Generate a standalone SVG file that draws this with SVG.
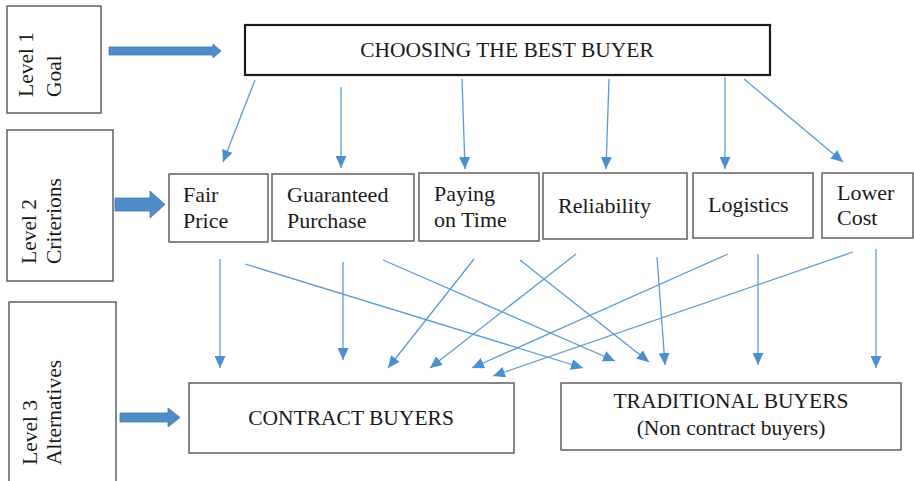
<svg xmlns="http://www.w3.org/2000/svg" width="914" height="481" viewBox="0 0 914 481">
  <defs>
    <style>
      .box { fill: #ffffff; stroke: #555555; stroke-width: 1.4; }
      .goal { fill: #ffffff; stroke: #1a1a1a; stroke-width: 2.2; }
      .lbl { font-family: "Liberation Serif", "Times New Roman", serif; fill: #1a1a1a; }
      .lvl { font-size: 21.5px; }
      .crit { font-size: 22px; }
      .alt { font-size: 21.5px; }
      .link { stroke: #5B9BD5; stroke-width: 1.3; fill: none; marker-end: url(#tip); }
      .fat { fill: #4F8CC8; stroke: #3E78B2; stroke-width: 0.8; }
    </style>
    <marker id="tip" markerUnits="userSpaceOnUse" markerWidth="12" markerHeight="11" refX="12" refY="5.5" orient="auto">
      <path d="M0,0 L12,5.5 L0,11 Z" fill="#4A90D0"/>
    </marker>
  </defs>

  <rect width="914" height="481" fill="#ffffff"/>

  <!-- level labels -->
  <g id="level1">
    <rect class="box" x="7" y="6" width="94" height="107"/>
    <text class="lbl lvl" transform="translate(33,97) rotate(-90)">Level 1</text>
    <text class="lbl lvl" transform="translate(61,97) rotate(-90)">Goal</text>
  </g>
  <g id="level2">
    <rect class="box" x="7" y="130" width="106" height="151"/>
    <text class="lbl lvl" transform="translate(36,264) rotate(-90)">Level 2</text>
    <text class="lbl lvl" transform="translate(61,264) rotate(-90)">Criterions</text>
  </g>
  <g id="level3">
    <rect class="box" x="9" y="302" width="107" height="190"/>
    <text class="lbl lvl" transform="translate(37,465) rotate(-90)">Level 3</text>
    <text class="lbl lvl" transform="translate(61,465) rotate(-90)">Alternatives</text>
  </g>

  <!-- goal -->
  <g id="goal">
    <rect class="goal" x="245" y="25" width="525" height="50"/>
    <text class="lbl" x="507" y="57" font-size="21.5" text-anchor="middle">CHOOSING THE BEST BUYER</text>
  </g>

  <!-- criteria -->
  <g id="fair-price">
    <rect class="box" x="169" y="174" width="99" height="68"/>
    <text class="lbl crit" x="183" y="202">Fair</text>
    <text class="lbl crit" x="183" y="228">Price</text>
  </g>
  <g id="guaranteed-purchase">
    <rect class="box" x="272" y="174" width="142" height="67"/>
    <text class="lbl crit" x="287" y="202">Guaranteed</text>
    <text class="lbl crit" x="287" y="228">Purchase</text>
  </g>
  <g id="paying-on-time">
    <rect class="box" x="419" y="173" width="120" height="68"/>
    <text class="lbl crit" x="434" y="201">Paying</text>
    <text class="lbl crit" x="434" y="227">on Time</text>
  </g>
  <g id="reliability">
    <rect class="box" x="543" y="173" width="144" height="66"/>
    <text class="lbl crit" x="558" y="213">Reliability</text>
  </g>
  <g id="logistics">
    <rect class="box" x="693" y="173" width="120" height="65"/>
    <text class="lbl crit" x="708" y="212">Logistics</text>
  </g>
  <g id="lower-cost">
    <rect class="box" x="822" y="173" width="91" height="65"/>
    <text class="lbl crit" x="837" y="200">Lower</text>
    <text class="lbl crit" x="837" y="225">Cost</text>
  </g>

  <!-- alternatives -->
  <g id="contract-buyers">
    <rect class="box" x="189" y="383" width="325" height="70"/>
    <text class="lbl alt" x="351" y="425" text-anchor="middle">CONTRACT BUYERS</text>
  </g>
  <g id="traditional-buyers">
    <rect class="box" x="561" y="383" width="340" height="67"/>
    <text class="lbl alt" x="731" y="408" text-anchor="middle">TRADITIONAL BUYERS</text>
    <text class="lbl alt" x="731" y="435" text-anchor="middle">(Non contract buyers)</text>
  </g>

  <!-- connectors -->
  <g id="connectors">
    <!-- level pointers -->
    <polygon class="fat" points="109,47 213,47 213,44 221,51 213,58 213,55 109,55"/>
    <polygon class="fat" points="115,198 150,198 150,191 165,204.5 150,218 150,211 115,211"/>
    <polygon class="fat" points="120,413 168,413 168,408 180,417.5 168,427 168,422 120,422"/>

    <!-- goal to criteria -->
    <line class="link" x1="255" y1="80" x2="223" y2="162"/>
    <line class="link" x1="341" y1="87" x2="341" y2="168"/>
    <line class="link" x1="462" y1="79" x2="465" y2="169"/>
    <line class="link" x1="609" y1="79" x2="606" y2="169"/>
    <line class="link" x1="725" y1="77" x2="725" y2="169"/>
    <line class="link" x1="744" y1="79" x2="843" y2="162"/>

    <!-- criteria to alternatives -->
    <line class="link" x1="220" y1="259" x2="220" y2="368"/>
    <line class="link" x1="245" y1="264" x2="583" y2="368"/>
    <line class="link" x1="343" y1="262" x2="343" y2="360"/>
    <line class="link" x1="383" y1="260" x2="615" y2="361"/>
    <line class="link" x1="474" y1="259" x2="388" y2="368"/>
    <line class="link" x1="520" y1="260" x2="649" y2="362"/>
    <line class="link" x1="576" y1="254" x2="430" y2="368"/>
    <line class="link" x1="657" y1="257" x2="665" y2="365"/>
    <line class="link" x1="728" y1="254" x2="472" y2="368"/>
    <line class="link" x1="758" y1="254" x2="758" y2="365"/>
    <line class="link" x1="853" y1="252" x2="493" y2="376"/>
    <line class="link" x1="876" y1="249" x2="876" y2="368"/>
  </g>
</svg>
